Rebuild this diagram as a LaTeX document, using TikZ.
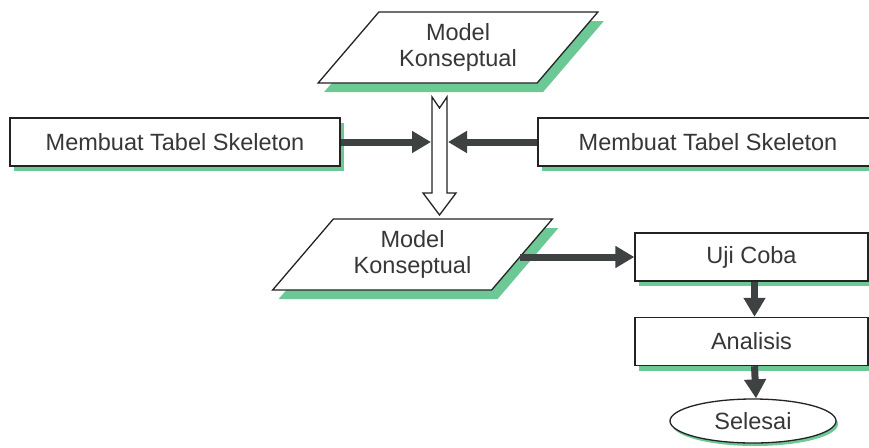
\documentclass[tikz,border=0pt]{standalone}
\usepackage{fontspec}
\setmainfont{Liberation Sans}
\usetikzlibrary{arrows.meta,shapes.geometric,shadows}
\definecolor{sg}{RGB}{108,201,149}
\definecolor{ink}{RGB}{35,35,35}
\definecolor{txt}{RGB}{55,55,55}
\definecolor{arrowgray}{RGB}{62,66,66}
\begin{document}
\begin{tikzpicture}[x=1pt,y=-1pt,
  font=\fontsize{23.5}{26.5}\selectfont,
  stepbox/.style={rectangle,draw=ink,line width=1.4pt,fill=white,text=txt,
    inner sep=0pt,minimum height=48pt,
    drop shadow={shadow xshift=4pt,shadow yshift=-5pt,fill=sg,opacity=1}},
  databox/.style={trapezium,trapezium left angle=47,trapezium right angle=133,
    trapezium stretches=true,minimum width=280pt,minimum height=71pt,
    draw=ink,line width=1.3pt,fill=white,text=txt,inner sep=0pt,align=center,
    drop shadow={shadow xshift=6pt,shadow yshift=-9pt,fill=sg,opacity=1}},
  endbox/.style={ellipse,draw=ink,line width=1.3pt,fill=white,text=txt,inner sep=0pt,
    minimum width=166pt,minimum height=44pt,
    drop shadow={shadow xshift=2pt,shadow yshift=-3pt,fill=sg,opacity=1}},
  flow/.style={draw=arrowgray,line width=7pt,
    -{Triangle[length=19pt,width=21pt]}},
]
\useasboundingbox (0,0) rectangle (869,447);
\clip (0,0) rectangle (869,447);

% top data block
\node[databox] (mk1) at (458,47.5) {Model\\Konseptual};

% skeleton tables on both sides
\node[stepbox,minimum width=330pt] (tl) at (175,142) {Membuat Tabel Skeleton};
\node[stepbox,minimum width=340pt] (tr) at (708,142) {Membuat Tabel Skeleton};

% hollow downward arrow
\draw[draw=ink,line width=1.3pt,fill=white]
  (432,97) -- (439.5,108) -- (447,97) -- (447,193) -- (456,193)
  -- (439.5,215) -- (423,193) -- (432,193) -- cycle;
\coordinate (hl) at (431,142);
\coordinate (hr) at (448,142);

% second data block
\node[databox] (mk2) at (412.5,254.5) {Model\\Konseptual};

% right-hand process chain
\node[stepbox,minimum width=233pt] (uji) at (751.5,257) {Uji Coba};
\node[stepbox,minimum width=233pt] (ana) at (751.5,341.5) {Analisis};
\node[endbox] (sel) at (753,421) {Selesai};

% connectors
\draw[flow] (tl.east) -- (hl);
\draw[flow] (tr.west) -- (hr);
\draw[flow] ([xshift=-3pt,yshift=-2.5pt]mk2.east) -- ([yshift=-2.5pt]mk2.east -| uji.west);
\draw[flow] ([xshift=3pt]uji.south) -- ([xshift=3pt]ana.north);
\draw[flow] ([xshift=3pt]ana.south) -- ([xshift=3pt]sel.north);
\end{tikzpicture}
\end{document}
